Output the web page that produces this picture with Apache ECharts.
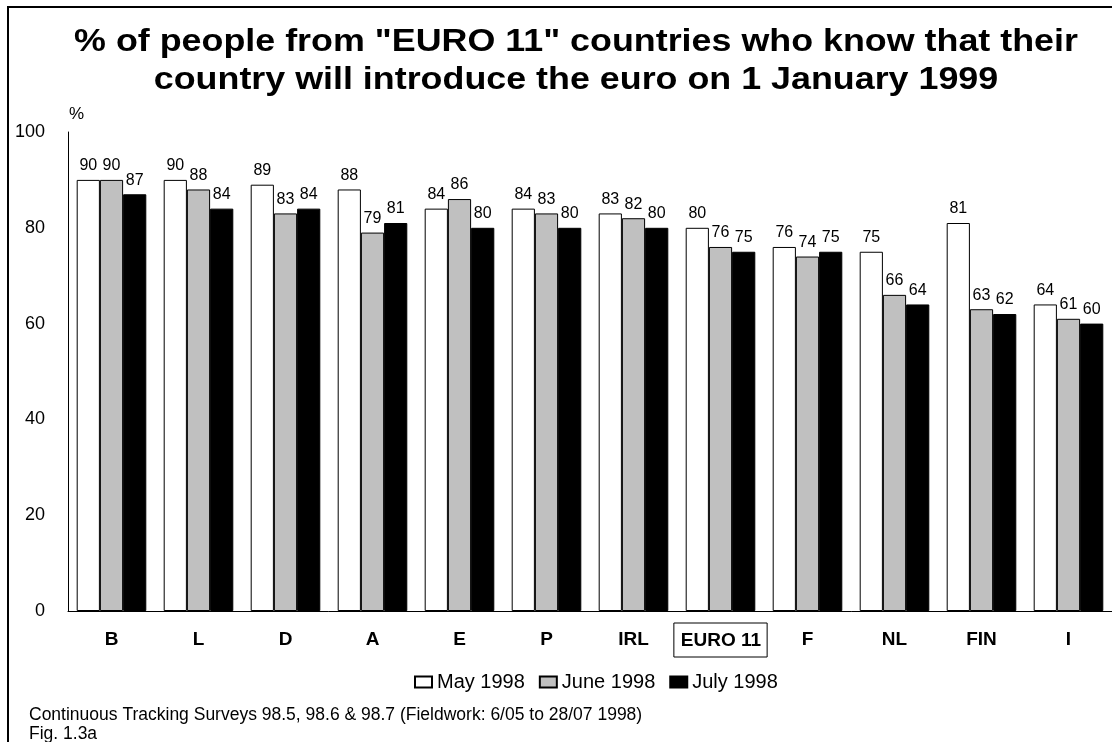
<!DOCTYPE html>
<html>
<head>
<meta charset="utf-8">
<script src="https://cdn.jsdelivr.net/npm/echarts@6/dist/echarts.min.js"></script>
<style>
  html, body { margin: 0; padding: 0; background: #fff; }
  #chart { width: 1112px; height: 742px; }
</style>
</head>
<body>
<div id="chart"></div>
<script>
// Countries and survey waves
const categories = ['B', 'L', 'D', 'A', 'E', 'P', 'IRL', 'EURO 11', 'F', 'NL', 'FIN', 'I'];
const may1998  = [90, 90, 89, 88, 84, 84, 83, 80, 76, 75, 81, 64];
const june1998 = [90, 88, 83, 79, 86, 83, 82, 76, 74, 66, 63, 61];
const july1998 = [87, 84, 84, 81, 80, 80, 80, 75, 75, 64, 62, 60];
const yTicks = [0, 20, 40, 60, 80, 100];

const FONT = '"Liberation Sans", Arial, sans-serif';

function barSeries(name, data, fill) {
  return {
    name: name,
    type: 'bar',
    data: data,
    barGap: '0%',
    barCategoryGap: '20%',
    itemStyle: { color: fill, borderColor: '#000', borderWidth: 1 },
    label: {
      show: true,
      position: 'top',
      distance: 6,
      color: '#000',
      fontFamily: FONT,
      fontSize: 16
    }
  };
}

const chart = echarts.init(document.getElementById('chart'), null, { renderer: 'canvas' });
chart.setOption({
  animation: false,
  backgroundColor: '#fff',
  legend: {
    top: 667,
    left: 409,
    itemWidth: 17,
    itemHeight: 11,
    itemGap: 14,
    icon: 'rect',
    textStyle: { fontFamily: FONT, fontSize: 20, color: '#000' },
    data: ['May 1998', 'June 1998', 'July 1998']
  },
  grid: { left: 68, right: -2, top: 132, bottom: 131, containLabel: false },
  xAxis: {
    type: 'category',
    data: categories,
    axisLine: { show: true, lineStyle: { color: '#000', width: 1 } },
    axisTick: { show: false },
    axisLabel: {
      interval: 0,
      margin: 29,
      verticalAlign: 'middle',
      color: '#000',
      fontFamily: FONT,
      fontWeight: 'bold',
      fontSize: 19,
      formatter: function (v) { return v === 'EURO 11' ? '{box|' + v + '}' : v; },
      rich: {
        box: {
          fontFamily: FONT,
          fontWeight: 'bold',
          fontSize: 19,
          color: '#000',
          borderColor: '#000',
          borderWidth: 1,
          padding: [8, 6, 7, 7]
        }
      }
    }
  },
  yAxis: {
    type: 'value',
    min: yTicks[0],
    max: yTicks[yTicks.length - 1],
    interval: 20,
    splitLine: { show: false },
    axisLine: { show: true, lineStyle: { color: '#000', width: 1 } },
    axisTick: { show: false },
    axisLabel: { margin: 23, color: '#000', fontFamily: FONT, fontSize: 18 }
  },
  graphic: [
    {
      type: 'rect',
      shape: { x: 8, y: 7, width: 1120, height: 760 },
      style: { fill: 'none', stroke: '#000', lineWidth: 2 },
      silent: true
    },
    {
      // two-line bold heading, slightly widened
      type: 'text',
      x: 576,
      y: 23,
      scaleX: 1.12,
      style: {
        text: '% of people from "EURO 11" countries who know that their\ncountry will introduce the euro on 1 January 1999',
        fontFamily: FONT,
        fontWeight: 'bold',
        fontSize: 32,
        lineHeight: 38,
        align: 'center',
        verticalAlign: 'top',
        fill: '#000'
      }
    },
    {
      type: 'text',
      left: 69,
      top: 106,
      style: { text: '%', fontFamily: FONT, fontSize: 17, fill: '#000' }
    },
    {
      type: 'text',
      left: 29,
      top: 706,
      style: {
        text: 'Continuous Tracking Surveys 98.5, 98.6 & 98.7 (Fieldwork: 6/05 to 28/07 1998)\nFig. 1.3a',
        fontFamily: FONT,
        fontSize: 17.5,
        lineHeight: 19,
        fill: '#000'
      }
    }
  ],
  series: [
    barSeries('May 1998', may1998, '#ffffff'),
    barSeries('June 1998', june1998, '#c0c0c0'),
    barSeries('July 1998', july1998, '#000000')
  ]
});
</script>
</body>
</html>
